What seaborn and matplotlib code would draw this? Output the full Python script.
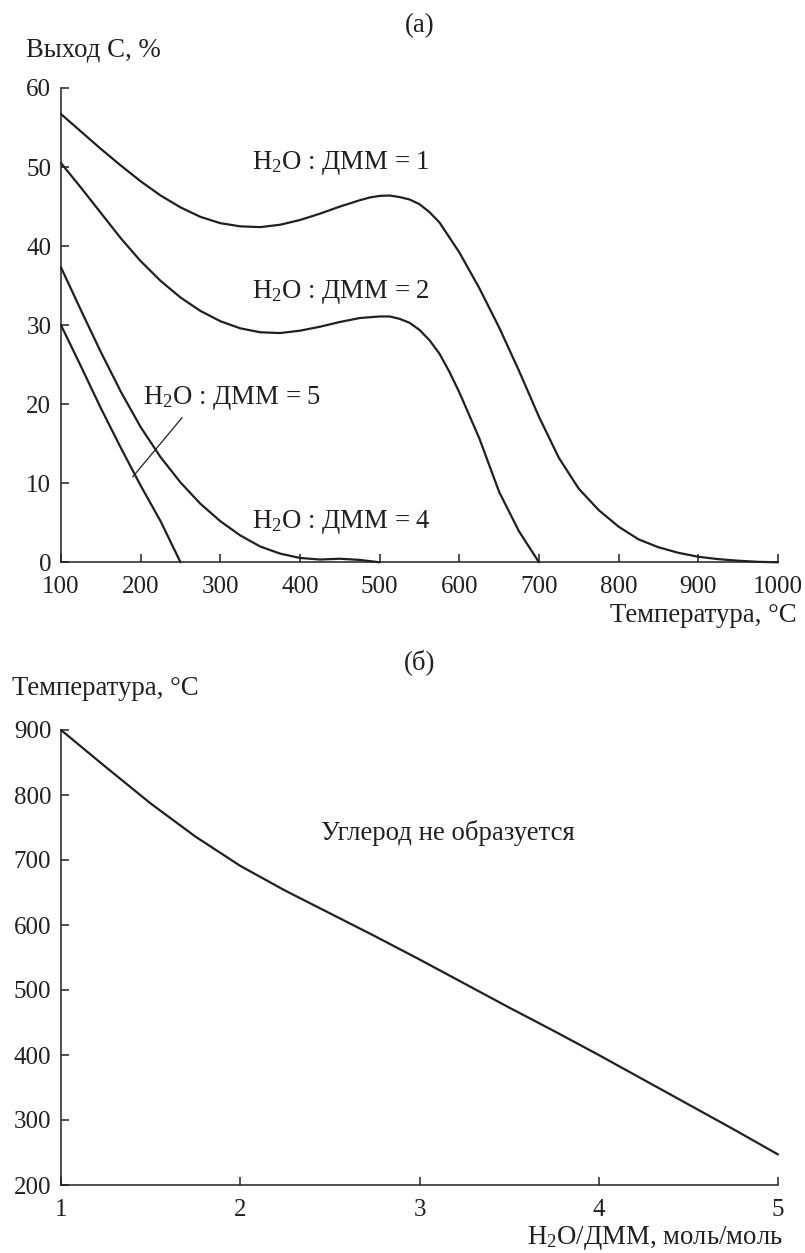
import numpy as np
import pandas as pd
import matplotlib
matplotlib.use("Agg")
import matplotlib.pyplot as plt
import seaborn as sns

# ---------------- data ----------------
temp_1 = [100, 125, 150, 175, 200, 225, 250, 275, 300, 325, 350, 375, 400, 425, 450,
          475, 487.5, 500, 512.5, 525, 537.5, 550, 562.5, 575, 600, 625, 650, 675, 700,
          725, 750, 775, 800, 825, 850, 875, 900, 925, 950, 975, 1000]
yield_1 = [56.7, 54.5, 52.3, 50.2, 48.2, 46.4, 44.9, 43.7, 42.9, 42.5, 42.4, 42.7, 43.3,
           44.1, 45.0, 45.8, 46.15, 46.35, 46.4, 46.2, 45.9, 45.3, 44.3, 43.0, 39.2,
           34.7, 29.7, 24.2, 18.4, 13.2, 9.3, 6.6, 4.5, 2.9, 1.9, 1.2, 0.7, 0.4, 0.2,
           0.06, 0.0]

temp_2 = [100, 125, 150, 175, 200, 225, 250, 275, 300, 325, 350, 375, 400, 425, 450,
          475, 500, 512.5, 525, 537.5, 550, 562.5, 575, 587.5, 600, 625, 650, 675, 700]
yield_2 = [50.5, 47.4, 44.2, 41.0, 38.1, 35.6, 33.5, 31.8, 30.5, 29.6, 29.1, 29.0, 29.3,
           29.8, 30.4, 30.9, 31.1, 31.1, 30.8, 30.3, 29.4, 28.1, 26.4, 24.1, 21.5, 15.7,
           8.9, 3.9, 0.0]

temp_4 = [100, 125, 150, 175, 200, 225, 250, 275, 300, 325, 350, 375, 400, 425, 450,
          475, 500]
yield_4 = [37.3, 31.9, 26.6, 21.6, 17.1, 13.3, 10.1, 7.4, 5.2, 3.4, 2.0, 1.1, 0.55, 0.35,
           0.45, 0.3, 0.0]

temp_5 = [100, 125, 150, 175, 200, 225, 237.5, 250]
yield_5 = [30.0, 24.8, 19.5, 14.5, 9.7, 5.2, 2.6, 0.0]

ratio = [1, 1.25, 1.5, 1.75, 2, 2.25, 2.5, 2.75, 3, 3.25, 3.5, 3.75, 4, 4.25, 4.5, 4.75, 5]
t_limit = [900, 843, 787, 736, 691, 653, 618, 583, 547, 510, 473, 437, 400, 362, 324,
           286, 247]

x_ticks_a = [100, 200, 300, 400, 500, 600, 700, 800, 900, 1000]
y_ticks_a = [0, 10, 20, 30, 40, 50, 60]
x_ticks_b = [1, 2, 3, 4, 5]
y_ticks_b = [200, 300, 400, 500, 600, 700, 800, 900]

series_labels = ["H$_\\mathrm{2}$O : ДММ = 1", "H$_\\mathrm{2}$O : ДММ = 2",
                 "H$_\\mathrm{2}$O : ДММ = 4", "H$_\\mathrm{2}$O : ДММ = 5"]

# ---------------- style ----------------
sns.set_theme(style="ticks")
plt.rcParams["font.family"] = ["Liberation Serif", "DejaVu Serif"]
plt.rcParams["mathtext.fontset"] = "custom"
plt.rcParams["mathtext.rm"] = "Liberation Serif"
plt.rcParams["mathtext.it"] = "Liberation Serif:italic"
plt.rcParams["mathtext.bf"] = "Liberation Serif:bold"

FS_TICK = 18
FS = 19.3
INK = "#231f20"

fig = plt.figure(figsize=(8.05, 12.53), dpi=100)
ax1 = fig.add_axes([61 / 805, 1 - 562.3 / 1253, 717 / 805, 474.3 / 1253])
ax2 = fig.add_axes([61 / 805, 1 - 1185 / 1253, 717 / 805, 455 / 1253])

def style_axes(ax):
    for s in ["top", "right"]:
        ax.spines[s].set_visible(False)
    for s in ["left", "bottom"]:
        ax.spines[s].set_linewidth(1.1)
        ax.spines[s].set_color(INK)
    ax.tick_params(direction="in", length=6, width=1.1, colors=INK,
                   labelsize=FS_TICK, labelcolor=INK)
    ax.tick_params(axis="x", pad=10)
    ax.tick_params(axis="y", pad=7)
    ax.grid(False)

# ---------------- panel (a) ----------------
curves = [(temp_1, yield_1), (temp_2, yield_2), (temp_4, yield_4), (temp_5, yield_5)]
for tx, ty in curves:
    df = pd.DataFrame({"T": tx, "Y": ty})
    sns.lineplot(data=df, x="T", y="Y", ax=ax1, color=INK, linewidth=1.6,
                 sort=False, estimator=None, clip_on=False)

ax1.set_xlim(100, 1000)
ax1.set_ylim(0, 60)
ax1.set_xticks(x_ticks_a)
ax1.set_yticks(y_ticks_a)
style_axes(ax1)
ax1.set_xlabel("")
ax1.set_ylabel("")

ax1.text(340, 50.5, series_labels[0], fontsize=FS, color=INK, va="center", ha="left")
ax1.text(340, 34.2, series_labels[1], fontsize=FS, color=INK, va="center", ha="left")
ax1.text(340, 5.1, series_labels[2], fontsize=FS, color=INK, va="center", ha="left")
ax1.text(203, 20.8, series_labels[3], fontsize=FS, color=INK, va="center", ha="left")
ax1.annotate("", xy=(190, 10.8), xytext=(252, 18.3),
             arrowprops=dict(arrowstyle="-", color=INK, lw=0.9, shrinkA=0, shrinkB=0))

ax1.text(0.5, 1.132, "(а)", transform=ax1.transAxes, fontsize=FS, color=INK,
         ha="center", va="center")
ax1.text(-0.049, 1.081, "Выход С, %", transform=ax1.transAxes, fontsize=FS, color=INK,
         ha="left", va="center")
ax1.text(1.026, -0.113, "Температура, °С", transform=ax1.transAxes, fontsize=FS,
         color=INK, ha="right", va="center")

# ---------------- panel (б) ----------------
dfb = pd.DataFrame({"R": ratio, "T": t_limit})
sns.lineplot(data=dfb, x="R", y="T", ax=ax2, color=INK, linewidth=1.6,
             sort=False, estimator=None, clip_on=False)
ax2.set_xlim(1, 5)
ax2.set_ylim(200, 900)
ax2.set_xticks(x_ticks_b)
ax2.set_yticks(y_ticks_b)
style_axes(ax2)
ax2.set_xlabel("")
ax2.set_ylabel("")

ax2.text(3.16, 741, "Углерод не образуется", fontsize=FS, color=INK,
         ha="center", va="center")
ax2.text(0.5, 1.15, "(б)", transform=ax2.transAxes, fontsize=FS, color=INK,
         ha="center", va="center")
ax2.text(-0.068, 1.092, "Температура, °С", transform=ax2.transAxes, fontsize=FS,
         color=INK, ha="left", va="center")
ax2.text(1.007, -0.116, "H$_\\mathrm{2}$O/ДММ, моль/моль", transform=ax2.transAxes,
         fontsize=FS, color=INK, ha="right", va="center")

fig.savefig("out.png", dpi=100)
